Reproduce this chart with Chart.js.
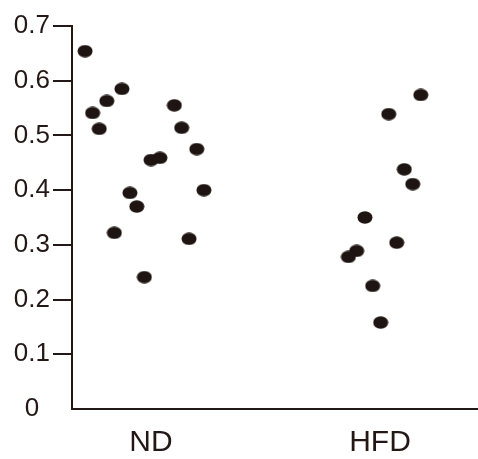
<!DOCTYPE html>
<html>
<head>
<meta charset="utf-8">
<script src="https://cdn.jsdelivr.net/npm/chart.js@4.4.1/dist/chart.umd.min.js"></script>
<style>
  html, body { margin: 0; padding: 0; background: #fff; }
  #grafico { display: block; }
</style>
</head>
<body>
<canvas id="grafico" width="478" height="459"></canvas>
<script>
// categorias e valores
const categorias = ['ND', 'HFD'];
// deslocamento horizontal (jitter) de cada ponto, em unidades de categoria
const ndJitter = [-0.288, -0.255, -0.226, -0.193, -0.127, -0.160, -0.092, -0.062,
                  -0.029, 0.000, 0.039, 0.102, 0.134, 0.200, 0.166, 0.231];
const ndValores = [0.654, 0.541, 0.512, 0.563, 0.585, 0.322, 0.395, 0.370,
                   0.241, 0.455, 0.459, 0.555, 0.514, 0.475, 0.311, 0.400];
const hfdJitter = [0.178, 0.038, 0.106, 0.143, -0.066, 0.073, -0.102, -0.138, -0.032, 0.003];
const hfdValores = [0.574, 0.539, 0.438, 0.411, 0.350, 0.304, 0.289, 0.278, 0.225, 0.158];
const yTicks = [0, 0.1, 0.2, 0.3, 0.4, 0.5, 0.6, 0.7];

const corTexto = '#231815';
const fonte = "'Liberation Sans', Arial, sans-serif";

// ponto em forma de elipse (um pouco mais largo que alto)
function criarElipse() {
    const c = document.createElement('canvas');
    c.width = 16; c.height = 13;
    const g = c.getContext('2d');
    g.fillStyle = '#1e1411';
    g.beginPath();
    g.ellipse(8, 6.5, 7.5, 6.2, 0, 0, Math.PI * 2);
    g.fill();
    return c;
}
const elipse = criarElipse();

function montarPontos(indice, jitter, valores) {
    return valores.map((v, i) => ({ x: indice + 1 + jitter[i], y: v }));
}

new Chart(document.getElementById('grafico'), {
    type: 'scatter',
    data: {
        datasets: [
            { label: categorias[0], data: montarPontos(0, ndJitter, ndValores) },
            { label: categorias[1], data: montarPontos(1, hfdJitter, hfdValores) }
        ]
    },
    options: {
        responsive: false,
        animation: false,
        // sem autoPadding o eixo x vai até a borda direita
        layout: { autoPadding: false, padding: { top: 26, right: 0, left: 0, bottom: 0 } },
        elements: { point: { pointStyle: elipse, radius: 7 } },
        plugins: { legend: { display: false }, tooltip: { enabled: false } },
        scales: {
            x: {
                type: 'linear',
                min: 0.655,
                max: 2.428,
                afterBuildTicks: s => { s.ticks = categorias.map((c, i) => ({ value: i + 1 })); },
                afterFit: s => { s.height = 50; s.paddingLeft = 0; s.paddingRight = 0; },
                ticks: {
                    autoSkip: false,
                    maxRotation: 0,
                    padding: 16,
                    color: corTexto,
                    font: { family: fonte, size: 30 },
                    callback: v => categorias[Math.round(v) - 1]
                },
                grid: { drawOnChartArea: false, drawTicks: false, tickLength: 0 },
                border: { display: true, color: corTexto, width: 2 }
            },
            y: {
                min: 0,
                max: 0.7,
                afterBuildTicks: s => { s.ticks = yTicks.map(v => ({ value: v })); },
                afterFit: s => { s.width = 72; },
                ticks: {
                    padding: 3,
                    crossAlign: 'center',
                    color: corTexto,
                    font: { family: fonte, size: 26 },
                    callback: v => v === 0 ? '0' : v.toFixed(1)
                },
                grid: {
                    drawOnChartArea: false,
                    tickLength: 19,
                    lineWidth: 2,
                    tickColor: ctx => (ctx.tick && ctx.tick.value === 0) ? 'rgba(0,0,0,0)' : corTexto
                },
                border: { display: true, color: corTexto, width: 2 }
            }
        }
    }
});
</script>
</body>
</html>
